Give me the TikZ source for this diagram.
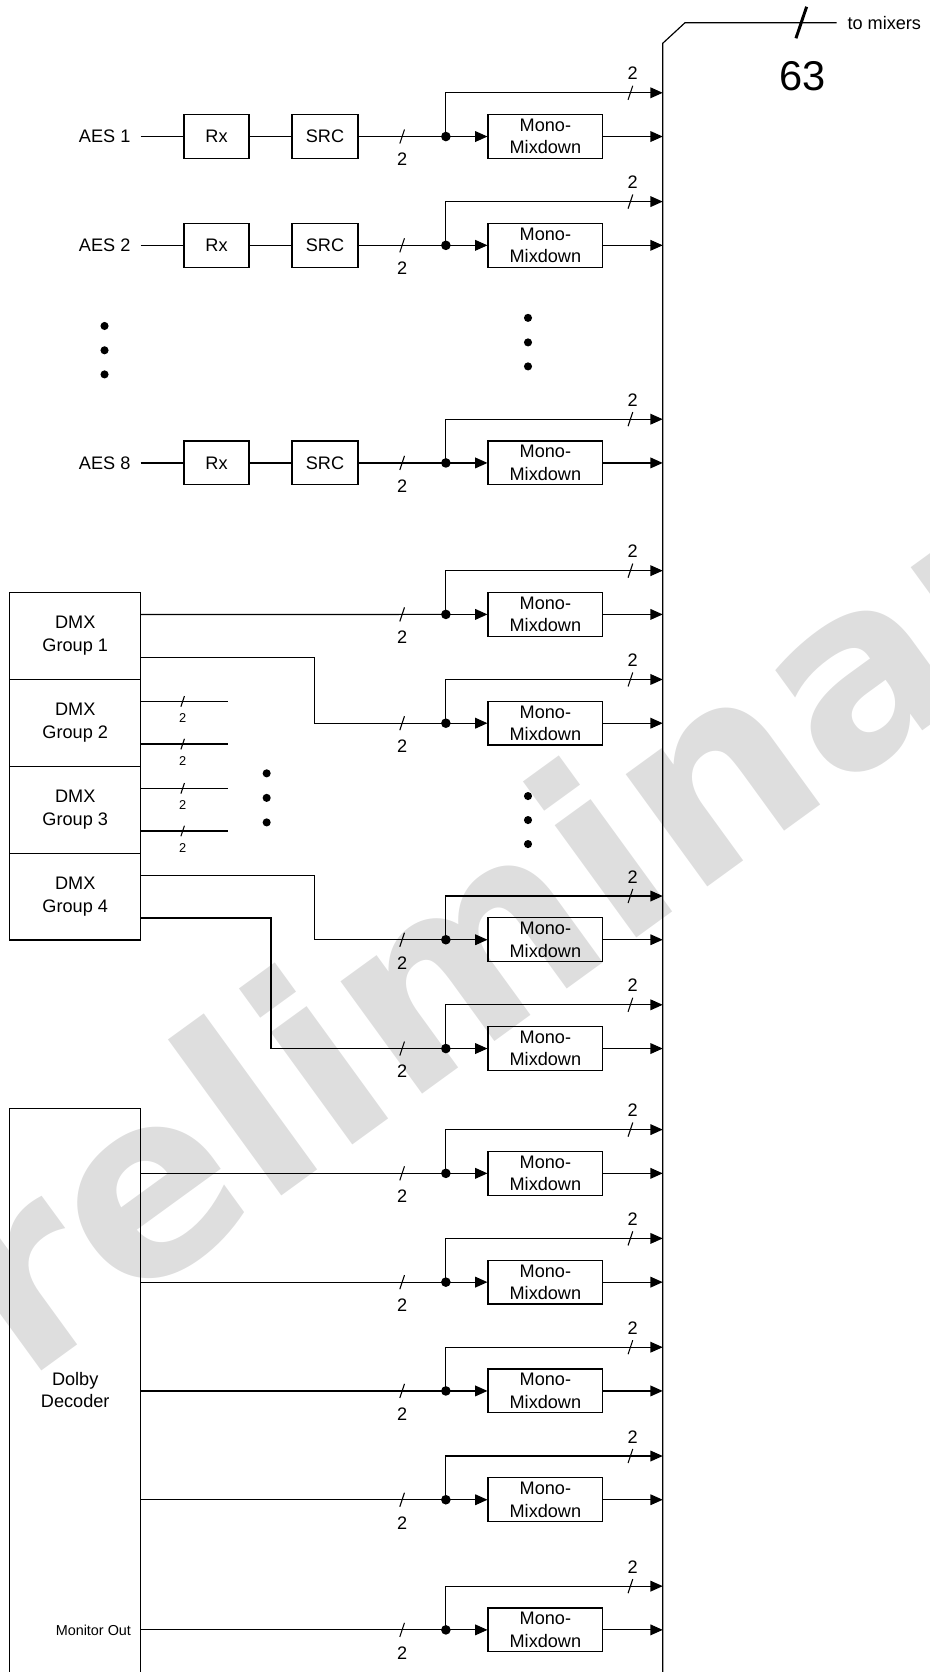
\documentclass[tikz,border=0pt]{standalone}
\usepackage{fontspec}
\setmainfont{Liberation Sans}
\newfontfamily\wmfont{DejaVu Sans}
\usetikzlibrary{arrows.meta}

\tikzset{
	blk/.style = {draw, minimum height=41pt, inner sep=0pt},
	mix/.style = {blk, minimum width=107.5pt, align=center},
	dmx/.style = {draw, minimum width=122.6pt, minimum height=81.5pt, inner sep=0pt, align=center},
	sig/.style = {-{Triangle[length=11.5pt,width=10pt]}},
	bmark/.pic = {\draw[line width=1pt] (-2.2,6.6) -- (2.2,-6.6);},
	small/.style = {font=\fontsize{12}{14}\selectfont},
}

\begin{document}
\begin{tikzpicture}[x=1pt, y=-1pt, line width=1.1pt, font=\fontsize{17}{21}\selectfont]
	\useasboundingbox (0,0) rectangle (871,1567.5);
	% watermark
	\begin{scope}
		\clip (0,0) rectangle (871,1567.5);
		\node[rotate=36, text=black!13, font=\wmfont\bfseries\fontsize{238}{238}\selectfont] (wm) at (470,892) {Preliminary};
	\end{scope}

	% mixdown stages feeding the bus
	\foreach \y [count=\i] in {128,230,434,576,678,881,983,1100,1202,1304,1406,1528} {
		\coordinate (J\i) at (418,\y);
		\coordinate (B\i) at (621.3,\y);
		\coordinate (T\i) at (621.3,\y-41);
		\node[mix] (M\i) at (511.3,\y) {Mono-\\Mixdown};
		\fill (J\i) circle[radius=4.5];
		\draw[sig] (J\i) -- (M\i);
		\draw[sig] (M\i) -- (B\i);
		\draw[sig] (J\i) |- (T\i);
		\pic at (377,\y) {bmark};
		\node (n\i) at (377,\y+21.6) {2};
		\pic at (591,\y-41) {bmark};
		\node (t\i) at (593,\y-59) {2};
	}

	% bus
	\node[anchor=west, inner xsep=9.6pt] (tomix) at (784.4,21.3) {to mixers};
	\coordinate (busbot) at (621.3,1590);
	\draw (busbot) -- (621.3,40.6) -- (642.2,21.3) -- (tomix.west);
	\draw[line width=2.8pt] (756.2,6.3) -- (746.2,35.9);
	\node[font=\fontsize{39}{39}\selectfont] (width) at (752,71) {63};

	% AES inputs
	\foreach \n/\k in {1/1, 2/2, 8/3} {
		\node[anchor=east, inner xsep=9pt] (aes\n) at (131.8,0 |- J\k) {AES \n};
		\node[blk, minimum width=61pt] (rx\n) at (203,0 |- J\k) {Rx};
		\node[blk, minimum width=62pt] (src\n) at (304.7,0 |- J\k) {SRC};
		\draw (aes\n) -- (rx\n);
		\draw (rx\n) -- (src\n);
		\draw (src\n) -- (J\k);
	}
	\foreach \y in {305.6,328.4,351} \fill (98,\y) circle[radius=3.8];
	\foreach \y in {298,321,343.5} \fill (495,\y) circle[radius=3.8];

	% DMX groups
	\node[dmx] (dmx1) at (70.5,596.05) {DMX\\Group 1};
	\node[dmx] (dmx2) at (70.5,677.55) {DMX\\Group 2};
	\node[dmx] (dmx3) at (70.5,759.05) {DMX\\Group 3};
	\node[dmx] (dmx4) at (70.5,840.55) {DMX\\Group 4};
	\draw ([yshift=20pt]dmx1.east) -- (J4);
	\draw ([yshift=-20pt]dmx1.east) -| (295,678) -- (J5);
	\draw ([yshift=20pt]dmx4.east) -| (295,881) -- (J6);
	\draw ([yshift=-20pt]dmx4.east) -| (254,983) -- (J7);
	\foreach \d in {2,3}
		\foreach \s/\m in {20/a,-20/b} {
			\draw ([yshift=\s pt]dmx\d.east) -- ++(81.7,0) coordinate (st\d\m);
			\pic[scale=0.75] at ([xshift=-42.8pt]st\d\m) {bmark};
			\node[small] (sl\d\m) at ([xshift=-42.8pt,yshift=-15.6pt]st\d\m) {2};
		}
	\foreach \y in {725,748,771} \fill (250,\y) circle[radius=3.8];
	\foreach \y in {746.3,768.8,791.3} \fill (495,\y) circle[radius=3.8];

	% Dolby decoder
	\node[draw, minimum width=122.6pt, minimum height=560pt, anchor=north, inner sep=0pt] (dolby) at (70.5,1039) {};
	\node[align=center] (dolbytxt) at (70.5,1303) {Dolby\\Decoder};
	\foreach \i in {8,...,12} \draw (dolby.east |- J\i) -- (J\i);
	\node[anchor=east, inner xsep=9pt, font=\fontsize{13.5}{16}\selectfont] (monout) at (dolby.east |- J12) {Monitor Out};
\end{tikzpicture}
\end{document}
